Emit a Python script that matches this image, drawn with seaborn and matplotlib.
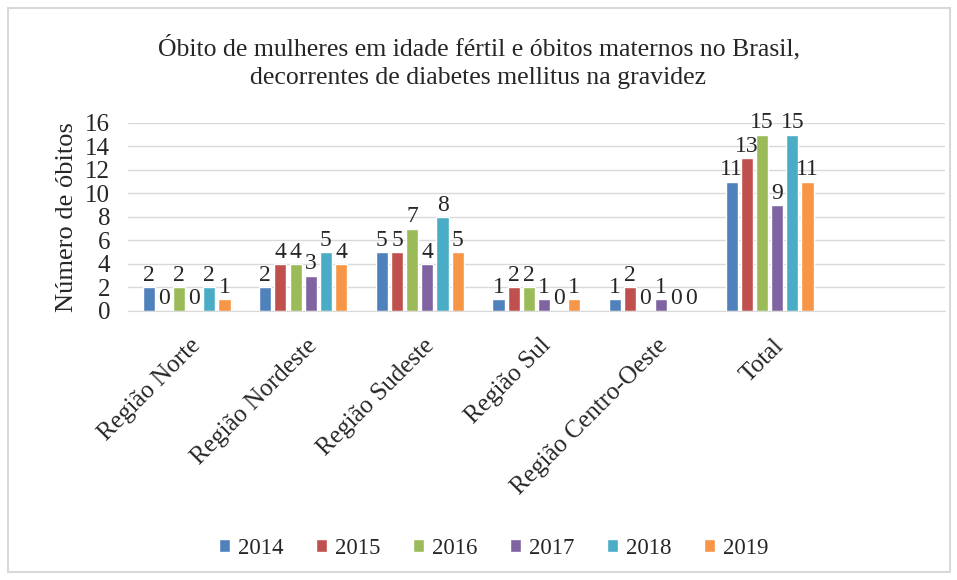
import pandas as pd
import matplotlib.pyplot as plt
import matplotlib.transforms as mtransforms
from matplotlib.patches import Rectangle
import seaborn as sns

# Dados
regioes = ['Região Norte', 'Região Nordeste', 'Região Sudeste', 'Região Sul',
           'Região Centro-Oeste', 'Total']
anos = ['2014', '2015', '2016', '2017', '2018', '2019']
obitos_2014 = [2, 2, 5, 1, 1, 11]
obitos_2015 = [0, 4, 5, 2, 2, 13]
obitos_2016 = [2, 4, 7, 2, 0, 15]
obitos_2017 = [0, 3, 4, 1, 1, 9]
obitos_2018 = [2, 5, 8, 0, 0, 15]
obitos_2019 = [1, 4, 5, 1, 0, 11]
cores = ['#4F81BD', '#C0504D', '#9BBB59', '#8064A2', '#4BACC6', '#F79646']

series = [obitos_2014, obitos_2015, obitos_2016, obitos_2017, obitos_2018, obitos_2019]
linhas = []
for ano, valores in zip(anos, series):
    for regiao, v in zip(regioes, valores):
        linhas.append({'Região': regiao, 'Ano': ano, 'Óbitos': v})
data = pd.DataFrame(linhas)

sns.set_style('white')
plt.rcParams['font.family'] = ['Liberation Serif', 'DejaVu Serif']

fig = plt.figure(figsize=(9.57, 5.8), dpi=100)
# moldura cinza em volta do gráfico (estilo Excel)
fig.patches.append(Rectangle((8 / 957, 8 / 580), 942 / 957, 564 / 580,
                             transform=fig.transFigure, fill=False,
                             edgecolor='#d9d9d9', linewidth=1.5))
ax = fig.add_axes([0.134, 0.464, 0.853, 0.324])

sns.barplot(data=data, x='Região', y='Óbitos', hue='Ano', palette=cores,
            width=0.78, gap=0.2, saturation=1, ax=ax, errorbar=None)

for c in ax.containers:
    ax.bar_label(c, fontsize=17, padding=1, color='#262626')

ax.set_xlim(-0.5, 6.5)
ax.set_ylim(0, 16)
ax.set_yticks(range(0, 17, 2))
ax.yaxis.grid(True, color='#d9d9d9', linewidth=1)
ax.set_axisbelow(True)
for s in ['top', 'right', 'left']:
    ax.spines[s].set_visible(False)
ax.spines['bottom'].set_color('#d9d9d9')
ax.tick_params(axis='y', labelsize=18, pad=13, length=0, labelcolor='#262626')
ax.tick_params(axis='x', labelsize=18, length=0, pad=17, labelcolor='#262626')
desloc = mtransforms.ScaledTranslation(3 / 100, 0, fig.dpi_scale_trans)
for lbl in ax.get_xticklabels():
    lbl.set_rotation(45)
    lbl.set_ha('right')
    lbl.set_rotation_mode('anchor')
    lbl.set_transform(lbl.get_transform() + desloc)
ax.set_xlabel('')
ax.set_ylabel('Número de óbitos', fontsize=19, labelpad=5, color='#262626')

fig.text(0.5, 0.893,
         'Óbito de mulheres em idade fértil e óbitos maternos no Brasil,\n'
         'decorrentes de diabetes mellitus na gravidez',
         fontsize=18.5, ha='center', va='center', linespacing=1.4, color='#262626')

handles, labels = ax.get_legend_handles_labels()
ax.legend(handles, labels, loc='center', bbox_to_anchor=(0.516, 0.055),
          bbox_transform=fig.transFigure, ncol=6, frameon=False, fontsize=16.5,
          handlelength=0.5, handleheight=0.5, handletextpad=0.35, columnspacing=1.4,
          labelcolor='#262626')

plt.savefig('out.png', dpi=100)
